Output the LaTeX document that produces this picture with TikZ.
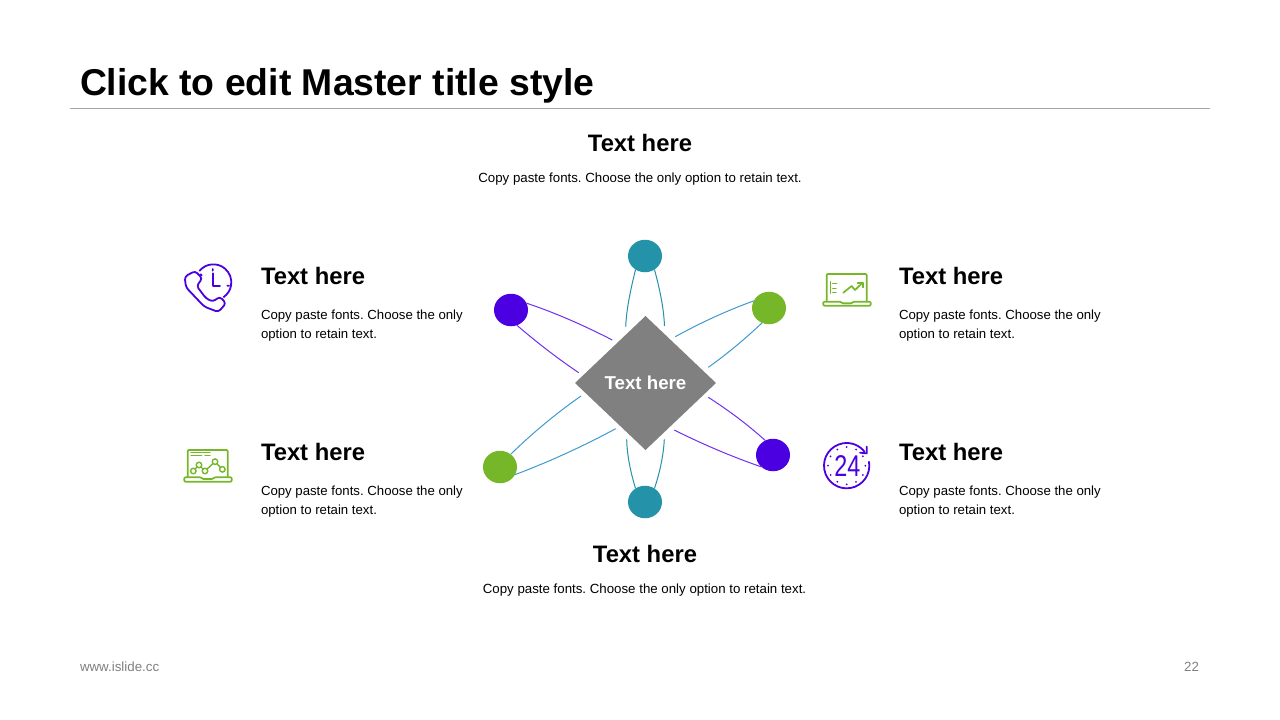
\documentclass[tikz,border=0pt]{standalone}
\usepackage{fontspec}
\setmainfont{Liberation Sans}
\usetikzlibrary{shapes.geometric}
\definecolor{teal1}{HTML}{2492A8}
\definecolor{purp}{HTML}{4A00E0}
\definecolor{purpl}{HTML}{7030F0}
\definecolor{grn}{HTML}{76B729}
\definecolor{blu}{HTML}{3E9BD0}
\definecolor{dia}{HTML}{808080}
\definecolor{foot}{HTML}{808080}
\tikzset{
  every node/.style={inner sep=0pt,outer sep=0pt},
  dot/.style={ellipse,minimum width=34pt,minimum height=32.5pt},
  head/.style={font=\fontsize{23.8}{28}\selectfont\bfseries,text=black},
  body/.style={font=\fontsize{13.2}{19}\selectfont\frenchspacing,text=black,align=left},
  bodyc/.style={font=\fontsize{13.28}{19}\selectfont\frenchspacing,text=black,align=center},
  conn/.style={line width=1pt},
  iconp/.style={draw=purp,line width=1.8pt,line cap=round,line join=round,fill=none},
  icong/.style={draw=grn,line width=1.7pt,line cap=round,line join=round,fill=none},
}
\begin{document}
\begin{tikzpicture}[x=1pt,y=-1pt]
\useasboundingbox (0,0) rectangle (1280,720);
\fill[white] (0,0) rectangle (1280,720);
% title
\node[anchor=base west,font=\fontsize{37.33}{40}\selectfont\bfseries] (title) at (80,95) {Click to edit Master title style};
\coordinate (ruleL) at (70,108.5);
\coordinate (ruleR) at (1210,108.5);
\draw[draw=black!35,line width=1pt] (ruleL) -- (ruleR);
% top / bottom text
\node[head,anchor=base] (tTop) at (640,151) {Text here};
\node[bodyc,anchor=base] (bTop) at (640,182) {Copy paste fonts. Choose the only option to retain text.};
\node[head,anchor=base] (tBot) at (645,562) {Text here};
\node[bodyc,anchor=base] (bBot) at (644.5,593) {Copy paste fonts. Choose the only option to retain text.};
% side text
\node[head,anchor=base west] (tUL) at (261,284.5) {Text here};
\node[body,anchor=north west] (bUL) at (261,310) {Copy paste fonts. Choose the only\\option to retain text.};
\node[head,anchor=base west] (tLL) at (261,460.5) {Text here};
\node[body,anchor=north west] (bLL) at (261,486) {Copy paste fonts. Choose the only\\option to retain text.};
\node[head,anchor=base west] (tUR) at (899,284.5) {Text here};
\node[body,anchor=north west] (bUR) at (899,310) {Copy paste fonts. Choose the only\\option to retain text.};
\node[head,anchor=base west] (tLR) at (899,460.5) {Text here};
\node[body,anchor=north west] (bLR) at (899,486) {Copy paste fonts. Choose the only\\option to retain text.};
% footer
\node[anchor=base west,font=\fontsize{13.33}{16}\selectfont,text=foot] (foot) at (80,671) {www.islide.cc};
\node[anchor=base east,font=\fontsize{13.33}{16}\selectfont,text=foot] (page) at (1199,671) {22};
% diamond
\node[diamond,fill=dia,minimum width=141pt,minimum height=134pt,
  shape aspect=1.05] (hub) at (645.5,383) {};
\node[text=white,font=\fontsize{18.67}{22}\selectfont\bfseries] (hubt) at (645.5,383) {Text here};
% dots
\node[dot,fill=teal1] (dT) at (645,256) {};
\node[dot,fill=teal1] (dB) at (645,502) {};
\node[dot,fill=purp] (dUL) at (511,310) {};
\node[dot,fill=purp] (dLR) at (773,455) {};
\node[dot,fill=grn] (dUR) at (769,308) {};
\node[dot,fill=grn] (dLL) at (500,467) {};
% free ends near the hub
\coordinate (a1) at (625.7,326.7); \coordinate (a2) at (664.5,326);
\coordinate (b1) at (626.7,439.3); \coordinate (b2) at (664.3,439.3);
\coordinate (c1) at (612.3,340);   \coordinate (c2) at (578.7,372.7);
\coordinate (d1) at (675.3,336.7); \coordinate (d2) at (708.3,367.3);
\coordinate (e1) at (581,396);     \coordinate (e2) at (615.7,428.7);
\coordinate (f1) at (708.3,397.3); \coordinate (f2) at (674.3,430);
% connectors
\draw[conn,teal1] (dT.-125) .. controls (631,288) and (626.5,308) .. (a1);
\draw[conn,teal1] (dT.-55) .. controls (659.5,288) and (663.8,308) .. (a2);
\draw[conn,teal1] (dB.125) .. controls (630.5,472) and (627,455) .. (b1);
\draw[conn,teal1] (dB.55) .. controls (660,472) and (663.5,455) .. (b2);
\draw[conn,purpl] (dUL.24) .. controls (556,313) and (585,326) .. (c1);
\draw[conn,purpl] (dUL.-69) .. controls (537,342.5) and (557,358) .. (c2);
\draw[conn,blu] (dUR.155) .. controls (726,311) and (700,323) .. (d1);
\draw[conn,blu] (dUR.-115) .. controls (745,339) and (727,354) .. (d2);
\draw[conn,blu] (dLL.50) .. controls (532.5,433) and (556,413.5) .. (e1);
\draw[conn,blu] (dLL.-27) .. controls (550,461.5) and (583.5,446) .. (e2);
\draw[conn,purpl] (dLR.118) .. controls (747,424) and (728,410) .. (f1);
\draw[conn,purpl] (dLR.-134) .. controls (731.5,456.5) and (702,444) .. (f2);
% phone icon
\begin{scope}[shift={(170,250)},scale=1/3]
 \draw[iconp] (130,97) ++(220:54) arc[start angle=220,end angle=415,radius=54];
 \draw[iconp] (128,70) -- (128,107) -- (150,107);
 \draw[iconp] (128,57) -- (128,62) (177,107) -- (172,107) (92,73) -- (95,76);
 \draw[iconp,rounded corners=3pt] (75,63) -- (44,80) -- (48,112) -- (103,170) -- (145,186) -- (168,160) -- (150,140) -- (128,155) -- (108,145) -- (80,108) -- (97,85) -- cycle;
\end{scope}
% laptop UR
\begin{scope}[shift={(810,260)},scale=1/3]
 \draw[icong,rounded corners=1pt] (50,122) -- (50,42) -- (170,42) -- (170,122);
 \draw[icong,rounded corners=1pt] (40,125) -- (92,125) -- (97,130) -- (125,130) -- (130,125) -- (182,125) -- (182,137) -- (40,137) -- cycle;
 \draw[icong,line width=1.3pt] (62,65) -- (62,100) (68,70) -- (80,70) (68,85) -- (78,85) (68,98) -- (78,98);
 \draw[icong] (100,98) -- (125,78) -- (135,90) -- (158,68);
 \draw[icong] (143,68) -- (158,68) -- (158,82);
\end{scope}
% laptop LL
\begin{scope}[shift={(175,440)},scale=1/3]
 \draw[icong,rounded corners=1pt] (38,110) -- (38,30) -- (158,30) -- (158,110);
 \draw[icong,rounded corners=1pt] (28,112) -- (78,112) -- (83,117) -- (113,117) -- (118,112) -- (170,112) -- (170,125) -- (28,125) -- cycle;
 \draw[icong,line width=1.3pt] (48,38) -- (105,38) (48,46) -- (80,46) (90,46) -- (105,46);
 \node[circle,draw=grn,line width=1.4pt,minimum size=5.5pt] (p1) at (55,93) {};
 \node[circle,draw=grn,line width=1.4pt,minimum size=5.5pt] (p2) at (72,75) {};
 \node[circle,draw=grn,line width=1.4pt,minimum size=5.5pt] (p3) at (90,93) {};
 \node[circle,draw=grn,line width=1.4pt,minimum size=5.5pt] (p4) at (120,65) {};
 \node[circle,draw=grn,line width=1.4pt,minimum size=5.5pt] (p5) at (142,88) {};
 \draw[icong,line width=1.4pt] (p1) -- (p2) (p2) -- (p3) (p3) -- (p4) (p4) -- (p5);
\end{scope}
% 24 icon
\begin{scope}[shift={(810,430)},scale=1/3]
 \draw[iconp] (110,107) ++(-10:68) arc[start angle=-10,end angle=322,radius=68];
 \draw[iconp] (150,68) -- (170,70) -- (170,50);
 \foreach \a in {0,30,...,330}{
   \fill[purp] ({110+56*cos(\a)},{107+56*sin(\a)}) circle (3);
 }
 \node[text=purp,font=\fontsize{30}{30}\selectfont,xscale=.78] (n24) at (112,107) {24};
\end{scope}
\end{tikzpicture}
\end{document}
